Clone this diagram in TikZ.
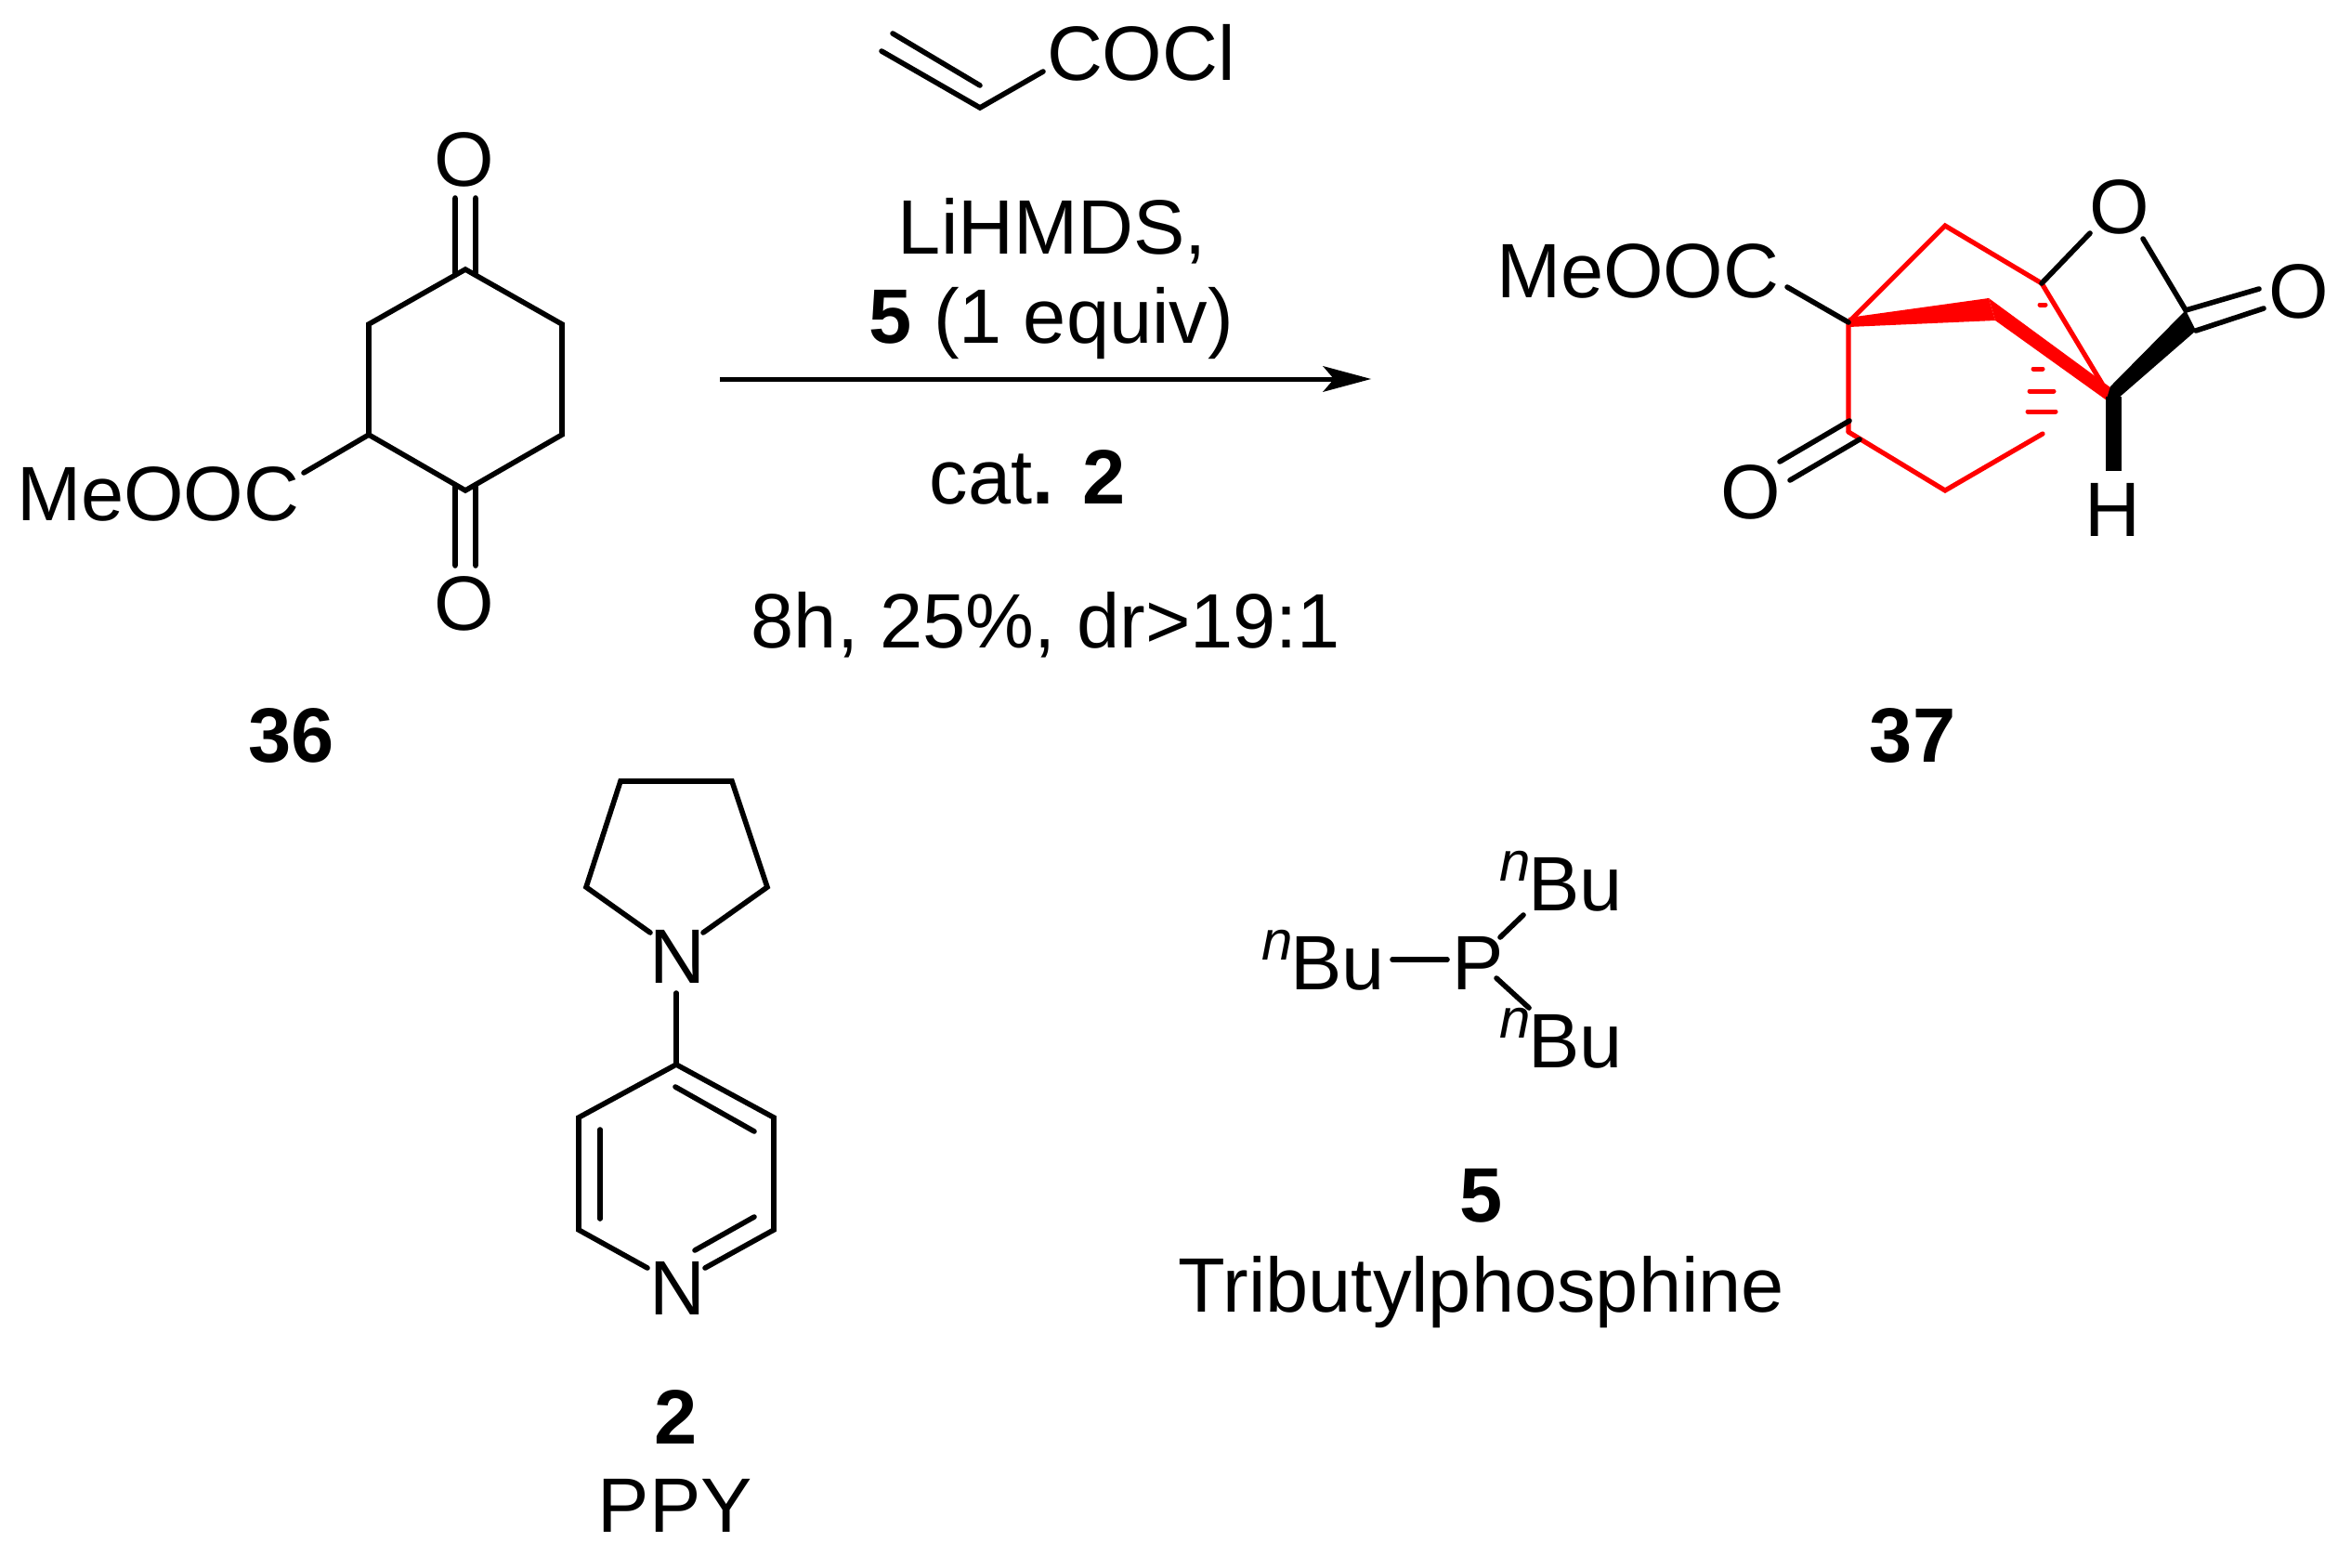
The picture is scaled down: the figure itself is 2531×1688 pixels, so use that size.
\documentclass[tikz,border=0pt]{standalone}
\usepackage{fontspec}
\setmainfont{Liberation Sans}
\newcommand{\nBu}{\raisebox{32pt}{\fontsize{60}{62}\selectfont\itshape n}\hspace{-2pt}Bu}
\tikzset{
  lab/.style={font=\fontsize{83}{99}\selectfont, inner sep=0pt, outer sep=0pt, anchor=base},
  labw/.style={lab, anchor=base west},
  bond/.style={draw=black, line width=5.6pt, line join=miter, line cap=round},
  rbond/.style={draw=red, line width=5.2pt, line join=miter, line cap=round},
  rwedge/.style={fill=red, draw=none},
  kwedge/.style={fill=black, draw=none},
  rhash/.style={draw=red, line width=5pt, line cap=round},
}
\begin{document}
\begin{tikzpicture}[x=1pt,y=-1pt]
\useasboundingbox[fill=white] (0,0) rectangle (2531,1688);

% ---- 36
\coordinate (a1) at (501,290);
\coordinate (a2) at (605,349);
\coordinate (a3) at (605,468);
\coordinate (a4) at (501,528);
\coordinate (a5) at (397,468);
\coordinate (a6) at (397,349);
\coordinate (a1L) at (490,296);
\coordinate (a1Lo) at (490,213);
\coordinate (a1R) at (512,296);
\coordinate (a1Ro) at (512,213);
\coordinate (a4L) at (490,522);
\coordinate (a4Lo) at (490,609);
\coordinate (a4R) at (512,522);
\coordinate (a4Ro) at (512,609);
\coordinate (a5o) at (327,509);
\draw[bond] (a1) -- (a2) -- (a3) -- (a4) -- (a5) -- (a6) -- cycle;
\draw[bond] (a1L) -- (a1Lo) (a1R) -- (a1Ro) (a4L) -- (a4Lo) (a4R) -- (a4Ro) (a5) -- (a5o);
\node[lab] (o36a) at (500,201) {O};
\node[lab] (o36b) at (500,678) {O};
\node[labw] (m36) at (18,560) {MeOOC};
\node[lab] (l36) at (313.5,820) {\bfseries 36};

% ---- reagents
\coordinate (v1) at (949,55);
\coordinate (v2) at (1055,116);
\coordinate (v3) at (1123,77);
\coordinate (v4) at (961,36);
\coordinate (v5) at (1055,92);
\draw[bond] (v1) -- (v2) -- (v3);
\draw[bond] (v4) -- (v5);
\node[labw] (coc) at (1127,87) {COCl};
\node[lab] (li) at (1133,273) {LiHMDS,};
\node[lab] (eq) at (1132,369) {\bfseries 5\mdseries{} (1 equiv)};
\coordinate (ar1) at (775,408);
\coordinate (ar2) at (1436,408);
\coordinate (ar3) at (1476,408);
\coordinate (ar4) at (1424,394);
\coordinate (ar5) at (1424,422);
\draw[draw=black,line width=5pt] (ar1) -- (ar2);
\fill (ar3) -- (ar4) -- (ar2) -- (ar5) -- cycle;
\node[lab] (cat) at (1106,542) {cat\bfseries. 2};
\node[lab] (cond) at (1126,697) {8h, 25\%, dr>19:1};

% ---- 37
\coordinate (c1) at (1990,347);
\coordinate (c1a) at (1990,342);
\coordinate (c1b) at (1990,352);
\coordinate (c2) at (2094,243);
\coordinate (c3) at (2198,305);
\coordinate (c4a) at (2141,321);
\coordinate (c4b) at (2148,345);
\coordinate (c5a) at (2268,431);
\coordinate (c5b) at (2280,423);
\coordinate (c5) at (2275,427);
\coordinate (c5c) at (2263,413);
\coordinate (c6) at (1990,465);
\coordinate (c7) at (2094,528);
\coordinate (c8) at (2199,467);
\coordinate (c9a) at (2353,334);
\coordinate (c9b) at (2364,356);
\coordinate (c9c) at (2358,345);
\coordinate (c5k) at (2272,416);
\coordinate (c5m) at (2280,429);
\coordinate (c5n) at (2268,429);
\coordinate (ox1) at (2250,251);
\coordinate (ox2) at (2307,257);
\coordinate (co1) at (2432,311);
\coordinate (co2) at (2437,332);
\coordinate (d1) at (1991,453);
\coordinate (d2) at (1916,497);
\coordinate (d3) at (2002,473);
\coordinate (d4) at (1927,517);
\coordinate (mb) at (1924,309);
\coordinate (hb) at (2275,507);
\coordinate (h1a) at (2183,443);
\coordinate (h1b) at (2213,443);
\coordinate (h2a) at (2185,421);
\coordinate (h2b) at (2211,421);
\coordinate (h3a) at (2189,397);
\coordinate (h3b) at (2199,397);
\coordinate (h4a) at (2196,328);
\coordinate (h4b) at (2202,328);
% red skeleton
\draw[rbond] (c6) -- (c7) -- (c8);
\draw[rbond] (c6) -- (c1) -- (c2) -- (c3) -- (c5c);
\draw[rhash] (h1a) -- (h1b) (h2a) -- (h2b) (h3a) -- (h3b) (h4a) -- (h4b);
\fill[rwedge] (c1a) -- (c4a) -- (c4b) -- (c1b) -- cycle;
\fill[rwedge] (c4a) -- (c4b) -- (c5a) -- (c5b) -- cycle;
% black parts
\fill[kwedge] (c5k) -- (c9a) -- (c9b) -- (c5m) -- (c5n) -- cycle;
\draw[draw=black,line width=17pt] (c5) -- (hb);
\draw[bond] (mb) -- (c1);
\draw[bond] (c3) -- (ox1);
\draw[bond] (ox2) -- (c9a);
\draw[bond] (c9a) -- (co1);
\draw[bond] (c9b) -- (co2);
\draw[bond] (d1) -- (d2);
\draw[bond] (d3) -- (d4);
\node[labw] (m37) at (1611,320) {MeOOC};
\node[lab] (o37a) at (2282,252) {O};
\node[lab] (o37b) at (2475,342) {O};
\node[lab] (o37c) at (1885,558) {O};
\node[lab] (h37) at (2274,577) {H};
\node[lab] (l37) at (2059,820) {\bfseries 37};

% ---- 2 PPY
\coordinate (p1) at (700,1004);
\coordinate (p2) at (631,955);
\coordinate (p3) at (668,841);
\coordinate (p4) at (788,841);
\coordinate (p5) at (826,955);
\coordinate (p6) at (757,1004);
\coordinate (p7) at (728,1069);
\coordinate (q1) at (728,1146);
\coordinate (q2) at (833,1203);
\coordinate (q3) at (833,1324);
\coordinate (q4) at (759,1365);
\coordinate (q5) at (697,1365);
\coordinate (q6) at (623,1324);
\coordinate (q7) at (623,1203);
\coordinate (r1) at (727,1170);
\coordinate (r2) at (812,1218);
\coordinate (r3) at (646,1216);
\coordinate (r4) at (646,1312);
\coordinate (r5) at (748,1346);
\coordinate (r6) at (812,1310);
\draw[bond] (p1) -- (p2) -- (p3) -- (p4) -- (p5) -- (p6);
\draw[bond] (p7) -- (q1);
\draw[bond] (q4) -- (q3) -- (q2) -- (q1) -- (q7) -- (q6) -- (q5);
\draw[bond] (r1) -- (r2);
\draw[bond] (r3) -- (r4);
\draw[bond] (r5) -- (r6);
\node[lab] (n1) at (729,1058) {N};
\node[lab] (n2) at (729,1415) {N};
\node[lab] (l2) at (728,1554) {\bfseries 2};
\node[lab] (ppy) at (727,1649) {PPY};

% ---- 5
\coordinate (b1) at (1499,1033);
\coordinate (b2) at (1558,1033);
\coordinate (b3) at (1615,1009);
\coordinate (b4) at (1640,985);
\coordinate (b5) at (1611,1053);
\coordinate (b6) at (1646,1085);
\draw[bond] (b1) -- (b2);
\draw[bond] (b3) -- (b4);
\draw[bond] (b5) -- (b6);
\node[labw] (p) at (1563,1065) {P};
\node[labw] (bu1) at (1358,1065) {\nBu};
\node[labw] (bu2) at (1614,980) {\nBu};
\node[labw] (bu3) at (1614,1149) {\nBu};
\node[lab] (l5) at (1595,1315) {\bfseries 5};
\node[lab] (tri) at (1595,1412) {Tributylphosphine};
\end{tikzpicture}
\end{document}
